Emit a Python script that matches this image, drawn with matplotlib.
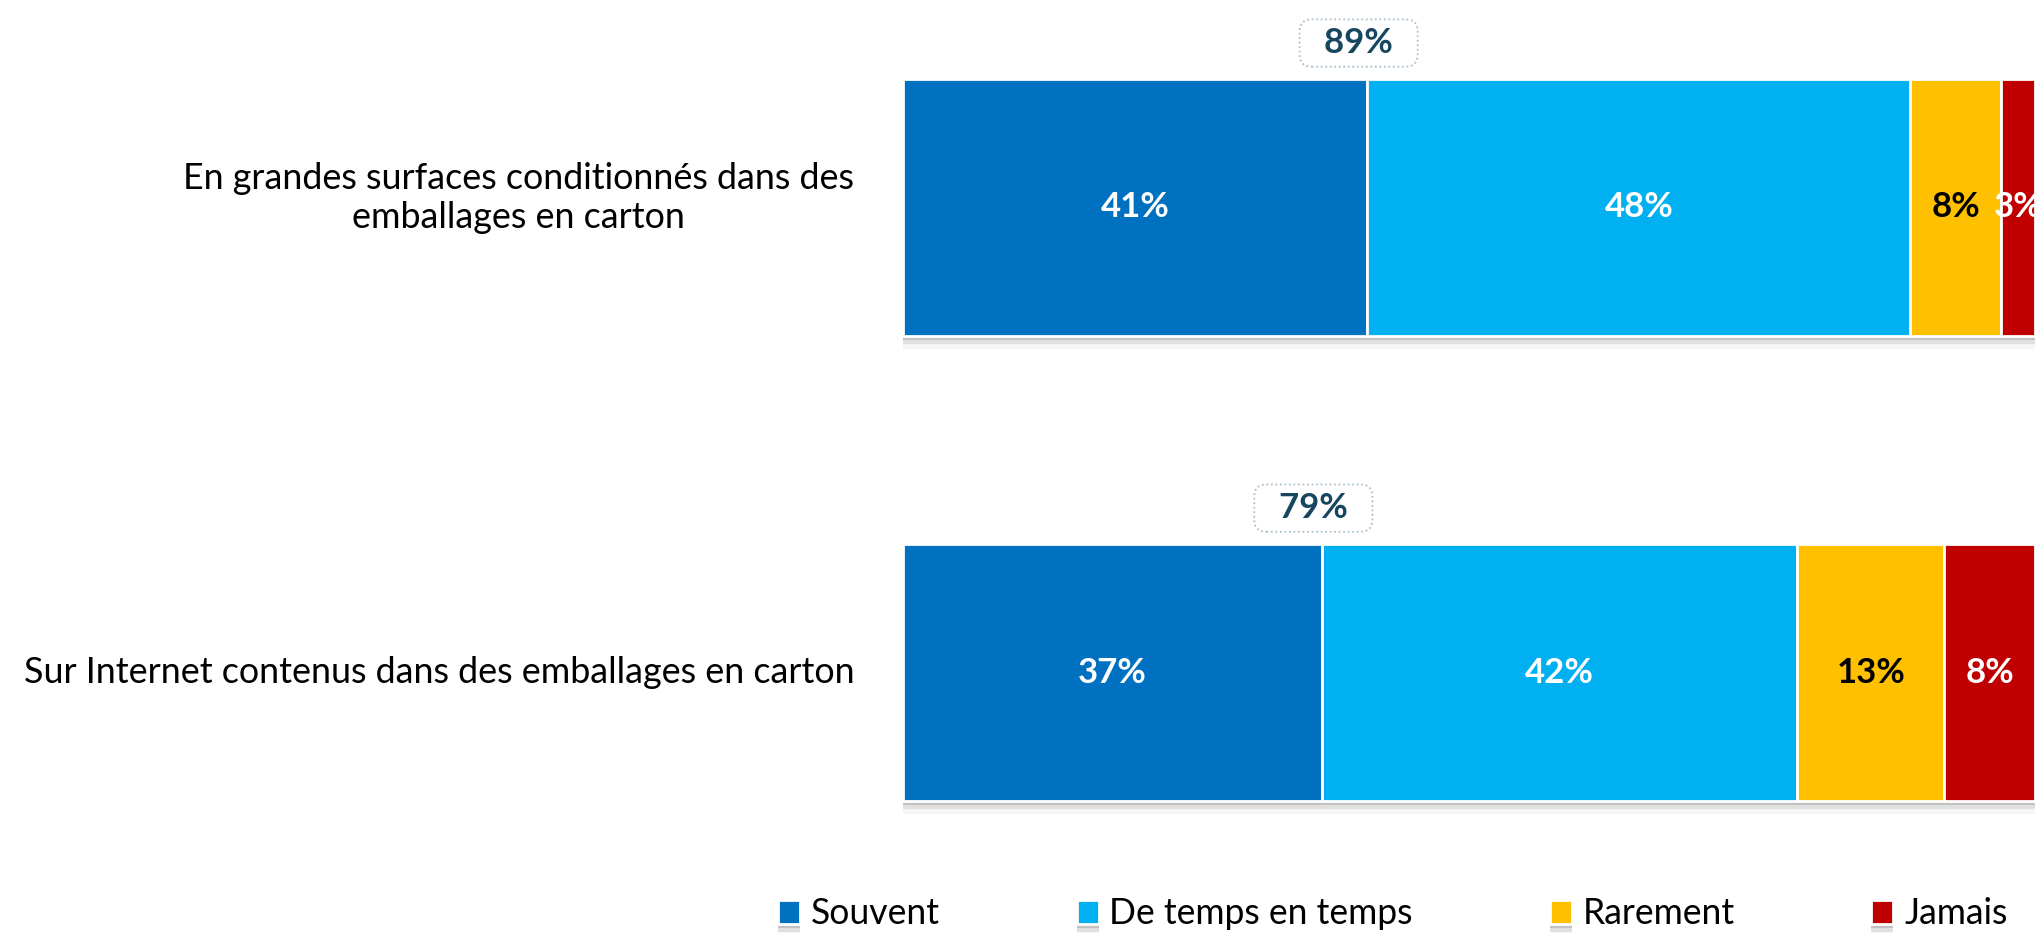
import matplotlib
matplotlib.use("Agg")
import matplotlib.pyplot as plt
import matplotlib.patheffects as pe

plt.rcParams['font.family'] = ['Lato', 'DejaVu Sans']

categories = ["En grandes surfaces conditionnés dans des\nemballages en carton",
              "Sur Internet contenus dans des emballages en carton"]
series = ["Souvent", "De temps en temps", "Rarement", "Jamais"]
souvent = [41, 37]
temps = [48, 42]
rarement = [8, 13]
jamais = [3, 8]
colors = ["#0070C0", "#00B0F0", "#FFC000", "#C00000"]
label_colors = ["white", "white", "black", "white"]

W, H = 2037, 933
fig = plt.figure(figsize=(W / 100, H / 100), dpi=100)
ax = fig.add_axes([903 / W, 0, 1132 / W, 1])
ax.set_xlim(0, 100)
ax.set_ylim(1.560, -0.446)
ax.axis("off")

bar_h = 0.553
ypos = list(range(len(categories)))
data = [souvent, temps, rarement, jamais]
shadow = [pe.SimplePatchShadow(offset=(0, -3), shadow_rgbFace="#8c8c8c", alpha=0.35),
          pe.SimplePatchShadow(offset=(0, -6), shadow_rgbFace="#8c8c8c", alpha=0.2),
          pe.SimplePatchShadow(offset=(0, -9), shadow_rgbFace="#8c8c8c", alpha=0.08),
          pe.Normal()]

lefts = [0] * len(categories)
for vals, name, col, lc in zip(data, series, colors, label_colors):
    bars = ax.barh(ypos, vals, left=lefts, height=bar_h, color=col,
                   edgecolor="white", linewidth=2, label=name)
    for b in bars:
        b.set_path_effects(shadow)
    for i, v in enumerate(vals):
        ax.text(lefts[i] + v / 2, ypos[i], f"{v}%", ha="center", va="center",
                fontsize=25, fontweight="bold", color=lc, clip_on=False)
    lefts = [l + v for l, v in zip(lefts, vals)]

# totals (Souvent + De temps en temps)
for i in ypos:
    tot = souvent[i] + temps[i]
    ax.text(souvent[i] - 0.75, ypos[i] - bar_h / 2 - 0.077, f"  {tot}%  ",
            ha="center", va="center", fontsize=25, fontweight="bold",
            color="#17465F",
            bbox=dict(boxstyle="round,pad=0.22,rounding_size=0.35", fc="white",
                      ec="#A9BFCC", ls=(0, (1, 1.5)), lw=1.3))

# category labels
for i, cat in enumerate(categories):
    ax.text(-4.3, ypos[i] - (0.02 if i == 0 else 0), cat, ha="right", va="center",
            multialignment="center", fontsize=25.8, color="black", clip_on=False)

fig.legend(loc="center left", bbox_to_anchor=(778 / W, 1 - 914 / H), ncol=4,
           frameon=False, fontsize=25.6, handlelength=0.62, handleheight=0.62,
           handletextpad=0.3, columnspacing=3.85, borderpad=0, borderaxespad=0)

fig.savefig("out.png", dpi=100)
